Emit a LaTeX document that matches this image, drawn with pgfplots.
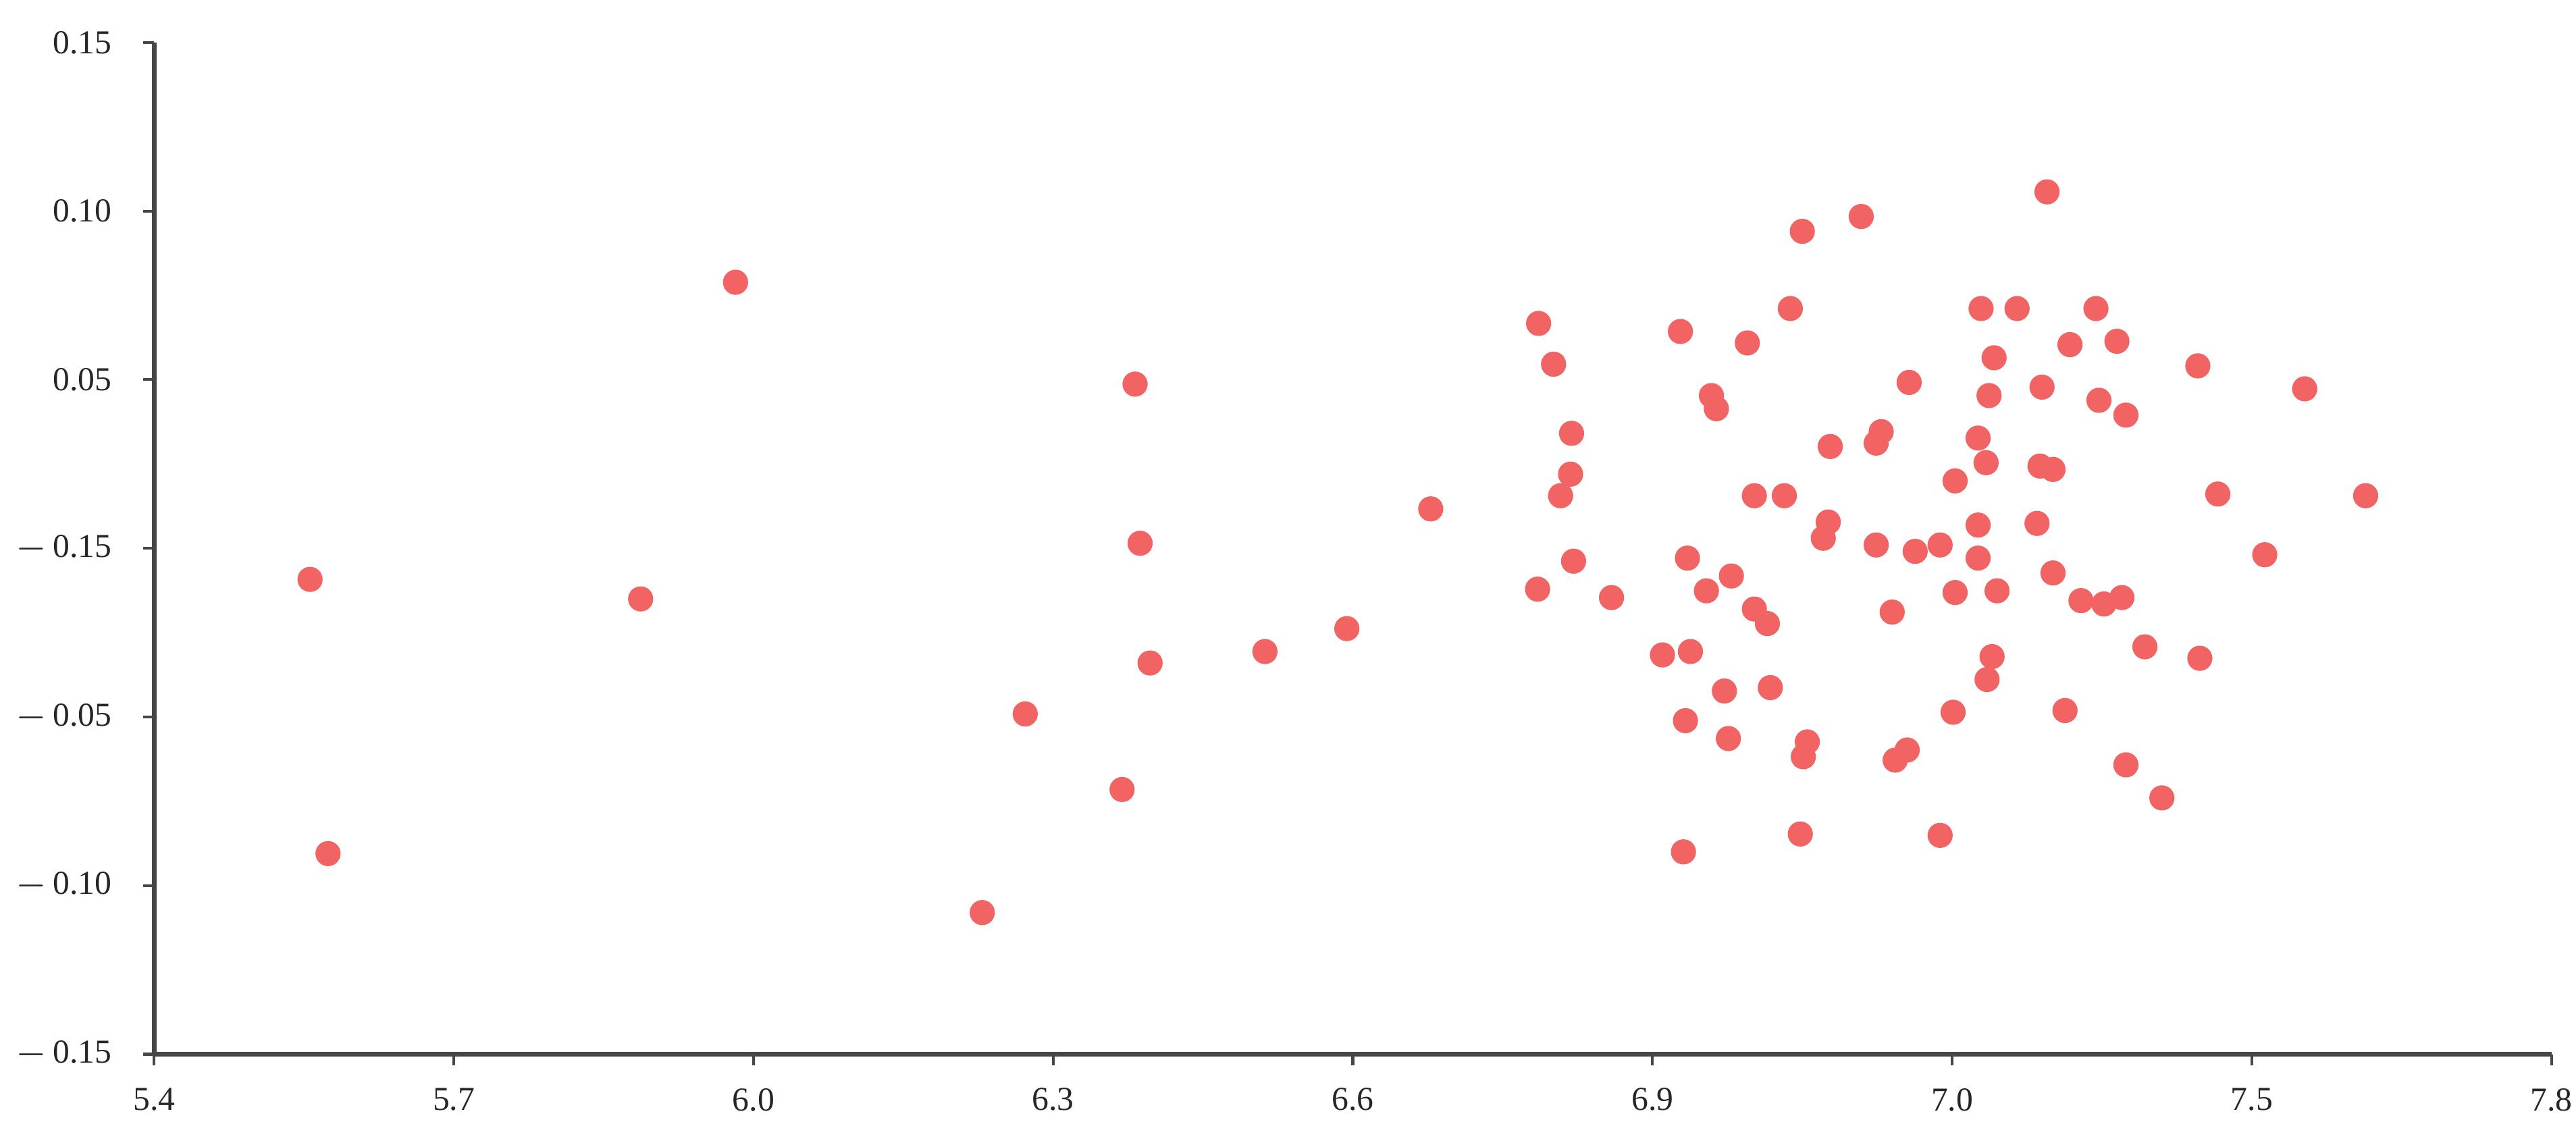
\documentclass[border=0pt]{standalone}
\usepackage{fontspec}
\setmainfont{Liberation Serif}
\usepackage{pgfplots}
\pgfplotsset{compat=1.18}
\definecolor{dotred}{RGB}{242,100,100}
\definecolor{axgray}{RGB}{70,70,70}

\pgfplotstableread{
x y
5.556 -0.0092
5.574 -0.0905
5.887 -0.0150
5.982 0.0789
6.229 -0.1080
6.272 -0.0491
6.369 -0.0715
6.382 0.0487
6.387 0.0015
6.397 -0.0340
6.512 -0.0306
6.594 -0.0238
6.678 0.0117
6.786 0.0667
6.801 0.0546
6.819 0.0341
6.818 0.0220
6.808 0.0156
6.785 -0.0121
6.821 -0.0038
6.859 -0.0146
6.928 0.0643
6.935 -0.0029
6.910 -0.0316
6.938 -0.0306
6.933 -0.0511
6.931 -0.0900
6.959 0.0453
6.964 0.0414
6.954 -0.0126
6.979 -0.0082
6.995 0.0609
6.972 -0.0423
6.976 -0.0564
7.002 -0.0180
7.015 -0.0223
7.002 0.0156
7.018 -0.0413
7.032 0.0156
7.038 0.0711
7.050 0.0940
7.055 -0.0574
7.051 -0.0618
7.048 -0.0847
7.071 0.0030
7.076 0.0078
7.078 0.0302
7.109 0.0984
7.124 0.0312
7.129 0.0346
7.124 0.0010
7.140 -0.0189
7.157 0.0492
7.155 -0.0598
7.143 -0.0628
7.163 -0.0009
7.188 0.0010
7.188 -0.0851
7.201 -0.0486
7.203 -0.0131
7.203 0.0200
7.226 0.0069
7.226 0.0327
7.226 -0.0029
7.229 0.0711
7.234 0.0254
7.237 0.0453
7.240 -0.0321
7.235 -0.0389
7.242 0.0565
7.245 -0.0126
7.265 0.0711
7.290 0.0478
7.285 0.0074
7.288 0.0244
7.295 0.1057
7.301 0.0234
7.301 -0.0073
7.313 -0.0481
7.318 0.0604
7.329 -0.0155
7.344 0.0711
7.347 0.0439
7.352 -0.0165
7.365 0.0614
7.370 -0.0146
7.374 0.0395
7.374 -0.0642
7.393 -0.0292
7.410 -0.0740
7.446 0.0541
7.448 -0.0326
7.466 0.0161
7.513 -0.0019
7.553 0.0473
7.614 0.0156
}\points

\begin{document}
\begin{tikzpicture}
\begin{axis}[
    width=429pt, height=181.1pt,
    scale only axis,
    xmin=5.4, xmax=7.8,
    ymin=-0.15, ymax=0.15,
    axis lines*=left,
    axis line style={axgray, line width=0.8pt},
    xtick={5.4,5.7,6.0,6.3,6.6,6.9,7.2,7.5,7.8},
    xticklabels={5.4,5.7,6.0,6.3,6.6,6.9,7.0,7.5,7.8},
    ytick={-0.15,-0.10,-0.05,0,0.05,0.10,0.15},
    yticklabels={$-$\,0.15,$-$\,0.10,$-$\,0.05,$-$\,0.15,0.05,0.10,0.15},
    tick align=outside,
    major tick length=2pt,
    tick style={axgray, line width=0.5pt},
    ticklabel style={font=\fontsize{6}{7}\selectfont, text=black!85, inner sep=0pt},
    xticklabel style={yshift=-3.9pt},
    yticklabel style={xshift=-5.4pt},
    /pgf/number format/assume math mode=true,
    clip=false,
]
\addplot[only marks, mark=*, mark size=2.05pt, draw=dotred, fill=dotred] table[x=x, y=y] {\points};
\end{axis}
\pgfresetboundingbox
\path[use as bounding box] ([xshift=-27.6pt,yshift=-16.2pt]current axis.south west)
    rectangle ([xshift=4.4pt,yshift=7.6pt]current axis.north east);
\end{tikzpicture}
\end{document}
